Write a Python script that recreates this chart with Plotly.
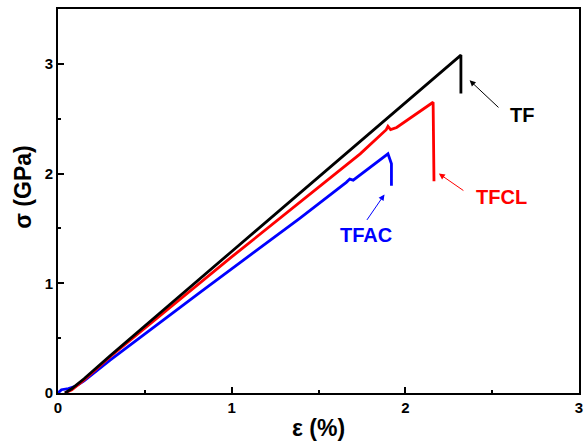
import plotly.graph_objects as go

# TF (black)
tf_x = [0.04, 0.08, 0.15, 0.30, 1.00, 2.00, 2.32, 2.32]
tf_y = [0.00, 0.04, 0.13, 0.34, 1.29, 2.65, 3.08, 2.73]

# TFCL (red)
tfcl_x = [0.04, 0.08, 0.15, 0.30, 1.00, 1.74, 1.89, 1.90, 1.915, 1.95, 2.16, 2.165]
tfcl_y = [0.00, 0.03, 0.12, 0.33, 1.24, 2.18, 2.40, 2.43, 2.40, 2.42, 2.65, 1.93]

# TFAC (blue)
tfac_x = [0.00, 0.02, 0.06, 0.10, 0.15, 0.30, 0.82, 1.39, 1.66, 1.68, 1.70, 1.90, 1.92, 1.92]
tfac_y = [0.00, 0.03, 0.04, 0.06, 0.11, 0.30, 0.92, 1.59, 1.92, 1.95, 1.94, 2.18, 2.09, 1.89]

x_ticks = [0, 1, 2, 3]
y_ticks = [0, 1, 2, 3]

FONT = "Arial, Liberation Sans, sans-serif"

fig = go.Figure()
fig.add_trace(go.Scatter(x=tfac_x, y=tfac_y, mode="lines", line=dict(color="#0000ff", width=2.8), name="TFAC"))
fig.add_trace(go.Scatter(x=tfcl_x, y=tfcl_y, mode="lines", line=dict(color="#ff0000", width=2.8), name="TFCL"))
fig.add_trace(go.Scatter(x=tf_x, y=tf_y, mode="lines", line=dict(color="#000000", width=2.8), name="TF"))

labels = [
    # text, color, text pos, arrow head, arrow tail
    ("TF", "#000000", (2.67, 2.53), (2.37, 2.85), (2.545, 2.59)),
    ("TFCL", "#ff0000", (2.556, 1.79), (2.193, 2.00), (2.343, 1.836)),
    ("TFAC", "#0000ff", (1.773, 1.44), (1.88, 1.81), (1.773, 1.564)),
]
for text, col, tpos, head, tail in labels:
    fig.add_annotation(x=head[0], y=head[1], ax=tail[0], ay=tail[1], xref="x", yref="y",
                       axref="x", ayref="y", text="", showarrow=True, arrowhead=2,
                       arrowsize=1.2, arrowwidth=1, arrowcolor=col)
    fig.add_annotation(x=tpos[0], y=tpos[1], xref="x", yref="y", text="<b>%s</b>" % text,
                       showarrow=False, font=dict(family=FONT, size=20, color=col))

fig.add_annotation(x=0.5, y=-0.091, xref="paper", yref="paper", text="<b>ε (%)</b>",
                   showarrow=False, yanchor="middle", font=dict(family=FONT, size=23, color="black"))
fig.add_annotation(x=-0.066, y=0.536, xref="paper", yref="paper", text="<b>σ (GPa)</b>",
                   showarrow=False, textangle=-90, xanchor="center", yanchor="middle",
                   font=dict(family=FONT, size=23, color="black"))

axis_common = dict(showgrid=False, zeroline=False, showline=True, linecolor="black", linewidth=2,
                   mirror=True, ticks="inside", ticklen=6, tickwidth=2, tickcolor="black",
                   automargin=False,
                   tickfont=dict(family=FONT, size=15, color="black"))
fig.update_xaxes(range=[0, 3], tickvals=x_ticks, ticktext=["<b>%d</b>" % v for v in x_ticks],
                 minor=dict(dtick=0.5, ticks="inside", ticklen=3, tickwidth=2, tickcolor="black"),
                 **axis_common)
fig.update_yaxes(range=[0, 3.5], tickvals=y_ticks, ticktext=["<b>%d</b>" % v for v in y_ticks],
                 minor=dict(dtick=0.5, ticks="inside", ticklen=3, tickwidth=2, tickcolor="black"),
                 **axis_common)
fig.update_layout(width=585, height=441, margin=dict(l=58, r=6, t=9, b=48),
                  plot_bgcolor="white", paper_bgcolor="white", showlegend=False)
fig.write_html("out.html", config={"displayModeBar": False},
               post_script="document.body.style.margin='0';document.body.style.padding='0';"
                           "document.documentElement.style.overflow='hidden';")
